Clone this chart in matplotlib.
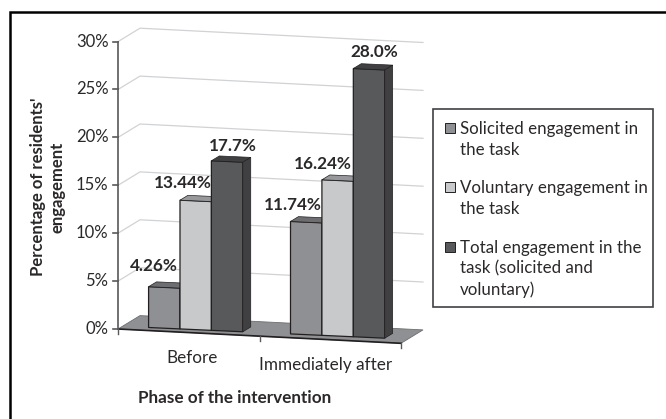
'''
Engagement of residents before and after the intervention, drawn as an
oblique 3D bar chart on a pixel-sized axes.
'''
import matplotlib
matplotlib.use('Agg')
import matplotlib.pyplot as plt
from matplotlib.patches import Polygon, Rectangle

plt.rcParams['font.family'] = ['Lato', 'DejaVu Sans']

categories = ['Before', 'Immediately after']
series_names = ['Solicited engagement in\nthe task',
                'Voluntary engagement in\nthe task',
                'Total engagement in the\ntask (solicited and\nvoluntary)']
solicited = [4.26, 11.74]
voluntary = [13.44, 16.24]
total = [17.7, 28.0]
value_labels = [['4.26%', '11.74%'], ['13.44%', '16.24%'], ['17.7%', '28.0%']]
y_ticks = [0, 5, 10, 15, 20, 25, 30]

W, H = 666, 419
X0, Y0 = 118, 329        # origin of the front axes
CAT_W, CAT_DY = 141.5, 7.15
BAR_DY = 6.4             # the bars fall a bit less steeply than the floor
UNIT = 9.58              # pixels per percent
DEPTH_X, DEPTH_Y = 22, 13.4

FRONT = ['#8f9093', '#c8c9cb', '#58595b']
TOP = ['#6d6e71', '#97989b', '#404042']
SIDE = ['#58595b', '#808184', '#404042']
EDGE = '#231f20'
TEXT = '#2b2829'

# pixel offsets of the value labels from the top of each bar's front face
LABEL_OFFSETS = [[(-10, -21.5), (-13.5, -17.5)],
                 [(-13, -18), (-15, -16.5)],
                 [(5.5, -15), (5.5, -17.5)]]


def project(u, v, d=0.0, slope=CAT_DY):
    '''Category position u, value v and depth d to pixel coordinates.'''
    return (X0 + CAT_W*u + DEPTH_X*d, Y0 + slope*u - UNIT*v - DEPTH_Y*d)


def draw_bar(ax, u, value, width, idx):
    d0, d1 = 0.2, 0.56

    def p(a, b, c):
        return project(a, b, c, slope=BAR_DY)

    ax.add_patch(Polygon([p(u, 0, d0), p(u+width, 0, d0), p(u+width, value, d0), p(u, value, d0)],
                         fc=FRONT[idx], ec=EDGE, lw=0.9, zorder=5))
    ax.add_patch(Polygon([p(u, value, d0), p(u+width, value, d0), p(u+width, value, d1), p(u, value, d1)],
                         fc=TOP[idx], ec=EDGE, lw=0.5, zorder=5))
    ax.add_patch(Polygon([p(u+width, 0, d0), p(u+width, 0, d1), p(u+width, value, d1), p(u+width, value, d0)],
                         fc=SIDE[idx], ec=EDGE, lw=0.5, zorder=5))


def main():
    fig = plt.figure(figsize=(W/100, H/100), dpi=100)
    ax = fig.add_axes([0, 0, 1, 1])
    ax.set_xlim(0, W)
    ax.set_ylim(H, 0)
    ax.axis('off')

    # outer frame, only top and left are in the picture
    ax.plot([10, 10, W], [418.5, 12, 12], color='black', lw=1.8, solid_joinstyle='miter', zorder=0)

    n_cat = len(categories)

    # floor
    ax.add_patch(Polygon([project(0, 0), project(n_cat, 0), project(n_cat, 0, 1), project(0, 0, 1)],
                         fc='#8f9093', ec='#6d6e71', lw=0.6, zorder=2))
    ax.plot(*zip(project(0, 0), project(n_cat, 0)), color=EDGE, lw=1.2, zorder=3)

    # walls' gridlines
    for tick in y_ticks[1:]:
        pts = [project(0, tick), project(0, tick, 1), project(n_cat, tick, 1)]
        ax.plot(*zip(*pts), color='#d1d2d4', lw=0.9, zorder=1)

    # y axis and ticks
    ax.plot(*zip(project(0, 0), project(0, y_ticks[-1])), color='#58595b', lw=1.2, zorder=3)
    for tick in y_ticks:
        x, y = project(0, tick)
        ax.plot([x-5, x], [y, y], color='#58595b', lw=1.2, zorder=3)
        ax.text(x-9.5, y, f'{tick}%', ha='right', va='center', fontsize=12, color=TEXT)

    # category ticks and labels
    for i in range(n_cat+1):
        x, y = project(i, 0)
        ax.plot([x, x], [y, y+5], color='#58595b', lw=1.0, zorder=3)
    label_x = [192, 325.5]
    label_y = [357.5, 364.5]
    for i, name in enumerate(categories):
        ax.text(label_x[i], label_y[i], name, ha='center', va='center', fontsize=12.3, color=TEXT)

    # bars
    width = 0.222
    for idx, values in enumerate([solicited, voluntary, total]):
        for i, value in enumerate(values):
            u = i + 0.185 + (0.003 if i else 0) + idx*width
            draw_bar(ax, u, value, width, idx)
            x, y = project(u + width/2, value, 0.2, slope=BAR_DY)
            dx, dy = LABEL_OFFSETS[idx][i]
            ax.text(x+dx, y+dy, value_labels[idx][i], ha='center', va='center',
                    fontsize=12.3, fontweight='bold', color=TEXT, zorder=6)

    # axis titles
    ax.text(47.5, 187, "Percentage of residents'\nengagement", rotation=90, ha='center', va='center',
            fontsize=12, fontweight='bold', color=TEXT, linespacing=1.25)
    ax.text(235, 398, 'Phase of the intervention', ha='center', va='center',
            fontsize=12.3, fontweight='bold', color=TEXT)

    # legend box
    ax.add_patch(Rectangle((433, 109), 220, 198, fc='white', ec='#414042', lw=1.2, zorder=2))
    legend_y = [128, 187, 247]
    for idx, name in enumerate(series_names):
        ax.add_patch(Rectangle((445, legend_y[idx]-5), 10, 10, fc=FRONT[idx], ec=EDGE, lw=0.7, zorder=3))
        ax.text(460, legend_y[idx]-7, name, ha='left', va='top', fontsize=12.2, color=TEXT,
                linespacing=1.36, zorder=3)

    fig.savefig('out.png', dpi=100)
    plt.close(fig)


if __name__ == '__main__':
    main()
